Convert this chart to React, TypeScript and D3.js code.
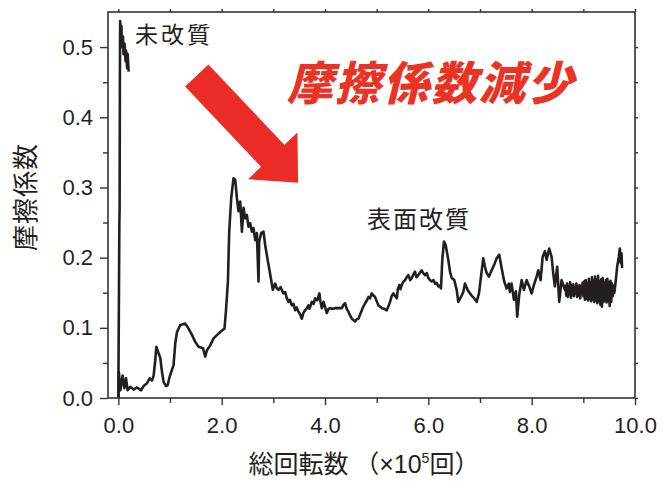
import { useEffect, useRef } from "react";
import * as d3 from "d3";

// 未改質 (untreated): very short run, x in 10^5 revolutions
const untreated: [number, number][] = [
  [0.0, 0.0], [0.02, 0.25], [0.025, 0.27], [0.03, 0.45], [0.035, 0.537], [0.05, 0.52], [0.06, 0.53],
  [0.07, 0.50], [0.09, 0.515], [0.10, 0.49], [0.12, 0.505], [0.14, 0.48], [0.15, 0.495],
  [0.17, 0.47], [0.18, 0.49], [0.20, 0.465],
];

// 表面改質 (surface treated)
const treated: [number, number][] = [
  [0.006, 0.0], [0.01, 0.037], [0.039, 0.011], [0.083, 0.032], [0.116, 0.014], [0.149, 0.028],
  [0.18, 0.011], [0.232, 0.016], [0.296, 0.012], [0.362, 0.015], [0.439, 0.011], [0.489, 0.017],
  [0.555, 0.021], [0.605, 0.028], [0.652, 0.025], [0.683, 0.032], [0.715, 0.054], [0.735, 0.073],
  [0.768, 0.066], [0.812, 0.057], [0.845, 0.037], [0.876, 0.023], [0.922, 0.017], [0.953, 0.018],
  [0.992, 0.03], [1.038, 0.04], [1.069, 0.047], [1.102, 0.078], [1.135, 0.094], [1.199, 0.104],
  [1.295, 0.106], [1.359, 0.099], [1.425, 0.09], [1.489, 0.08], [1.553, 0.073], [1.638, 0.071],
  [1.682, 0.059], [1.715, 0.068], [1.779, 0.075], [1.843, 0.085], [1.914, 0.09], [1.972, 0.094],
  [2.055, 0.099], [2.082, 0.123], [2.121, 0.166], [2.146, 0.237], [2.185, 0.285], [2.229, 0.313],
  [2.262, 0.311], [2.295, 0.285], [2.326, 0.266], [2.359, 0.28], [2.392, 0.237], [2.423, 0.271],
  [2.456, 0.256], [2.488, 0.261], [2.519, 0.244], [2.552, 0.249], [2.585, 0.237], [2.616, 0.242],
  [2.649, 0.225], [2.681, 0.235], [2.713, 0.166], [2.726, 0.223], [2.765, 0.235], [2.809, 0.237],
  [2.842, 0.218], [2.906, 0.19], [2.952, 0.171], [2.991, 0.154], [3.036, 0.163], [3.07, 0.156],
  [3.099, 0.154], [3.14, 0.158], [3.196, 0.149], [3.23, 0.151], [3.262, 0.142], [3.293, 0.137],
  [3.32, 0.14], [3.358, 0.132], [3.39, 0.134], [3.422, 0.125], [3.45, 0.129], [3.486, 0.123],
  [3.52, 0.119], [3.552, 0.113], [3.58, 0.121], [3.616, 0.125], [3.65, 0.128], [3.679, 0.132],
  [3.7, 0.127], [3.745, 0.137], [3.78, 0.134], [3.809, 0.142], [3.85, 0.139], [3.892, 0.149],
  [3.91, 0.138], [3.939, 0.128], [3.97, 0.137], [4.0, 0.13], [4.035, 0.121], [4.07, 0.127],
  [4.099, 0.128], [4.15, 0.127], [4.196, 0.128], [4.26, 0.128], [4.325, 0.128], [4.36, 0.133],
  [4.389, 0.135], [4.42, 0.127], [4.453, 0.123], [4.49, 0.117], [4.519, 0.113], [4.55, 0.111],
  [4.582, 0.109], [4.61, 0.112], [4.646, 0.113], [4.68, 0.119], [4.712, 0.125], [4.74, 0.13],
  [4.776, 0.135], [4.81, 0.139], [4.84, 0.144], [4.87, 0.142], [4.905, 0.149], [4.94, 0.146],
  [4.969, 0.144], [5.0, 0.138], [5.033, 0.132], [5.07, 0.13], [5.099, 0.128], [5.15, 0.127],
  [5.195, 0.125], [5.23, 0.131], [5.259, 0.137], [5.29, 0.145], [5.323, 0.149], [5.36, 0.145],
  [5.389, 0.142], [5.41, 0.155], [5.439, 0.161], [5.46, 0.155], [5.485, 0.161], [5.52, 0.166],
  [5.549, 0.168], [5.58, 0.172], [5.613, 0.175], [5.65, 0.168], [5.679, 0.171], [5.71, 0.176],
  [5.742, 0.18], [5.77, 0.172], [5.806, 0.175], [5.84, 0.179], [5.872, 0.182], [5.9, 0.178],
  [5.936, 0.175], [5.97, 0.178], [6.0, 0.171], [6.03, 0.168], [6.065, 0.166], [6.1, 0.168],
  [6.129, 0.163], [6.16, 0.164], [6.193, 0.159], [6.22, 0.16], [6.245, 0.156],
  [6.27, 0.197], [6.303, 0.223], [6.336, 0.218], [6.386, 0.197], [6.419, 0.18], [6.452, 0.171],
  [6.502, 0.168], [6.549, 0.154], [6.58, 0.137], [6.632, 0.144], [6.676, 0.151], [6.709, 0.163],
  [6.761, 0.154], [6.825, 0.147], [6.889, 0.142], [6.935, 0.137], [6.98, 0.149], [7.019, 0.173],
  [7.063, 0.199], [7.096, 0.187], [7.129, 0.178], [7.173, 0.173], [7.225, 0.182], [7.276, 0.19],
  [7.322, 0.199], [7.372, 0.204], [7.419, 0.185], [7.469, 0.166], [7.516, 0.156], [7.56, 0.163],
  [7.579, 0.151], [7.612, 0.163], [7.657, 0.14], [7.695, 0.152], [7.72, 0.116], [7.759, 0.147],
  [7.806, 0.168], [7.85, 0.154], [7.902, 0.168], [7.953, 0.159], [7.999, 0.149], [8.043, 0.161],
  [8.096, 0.173], [8.127, 0.182], [8.173, 0.168], [8.212, 0.201], [8.256, 0.209], [8.289, 0.197],
  [8.339, 0.213], [8.386, 0.201], [8.417, 0.178], [8.449, 0.159], [8.494, 0.187], [8.533, 0.137],
  [8.579, 0.168], [8.643, 0.154], [8.655, 0.16], [8.67, 0.146], [8.685, 0.163], [8.7, 0.144],
  [8.715, 0.158], [8.73, 0.148], [8.745, 0.165], [8.76, 0.143], [8.775, 0.16], [8.79, 0.147],
  [8.805, 0.162], [8.82, 0.145], [8.835, 0.157], [8.85, 0.149], [8.865, 0.163], [8.88, 0.144],
  [8.895, 0.159], [8.91, 0.146], [8.925, 0.161], [8.94, 0.142], [8.955, 0.158], [8.97, 0.148],
  [8.985, 0.164], [9.0, 0.145], [9.015, 0.166], [9.03, 0.14], [9.045, 0.168], [9.06, 0.142],
  [9.075, 0.163], [9.09, 0.139], [9.105, 0.17], [9.12, 0.141], [9.135, 0.165], [9.15, 0.138],
  [9.165, 0.172], [9.18, 0.14], [9.195, 0.167], [9.21, 0.137], [9.225, 0.173], [9.24, 0.139],
  [9.255, 0.168], [9.27, 0.135], [9.285, 0.174], [9.3, 0.138], [9.315, 0.166], [9.33, 0.133],
  [9.345, 0.169], [9.36, 0.13], [9.375, 0.171], [9.39, 0.137], [9.405, 0.164], [9.42, 0.139],
  [9.435, 0.168], [9.45, 0.136], [9.465, 0.17], [9.48, 0.138], [9.495, 0.165], [9.51, 0.131],
  [9.525, 0.167], [9.54, 0.137], [9.555, 0.163], [9.57, 0.145], [9.585, 0.16], [9.6, 0.15],
  [9.629, 0.168], [9.654, 0.187], [9.687, 0.201], [9.706, 0.213],
  [9.725, 0.192], [9.739, 0.206], [9.75, 0.185],
];

const xMajor = [0, 2, 4, 6, 8, 10];
const xMinor = [1, 3, 5, 7, 9];
const yMajor = [0, 0.1, 0.2, 0.3, 0.4, 0.5];
const yMinor = [0.05, 0.15, 0.25, 0.35, 0.45];

// arrow: tail centre and tip, in data units
const arrowTail: [number, number] = [1.518, 0.4596];
const arrowTip: [number, number] = [3.48, 0.3067];

const width = 663, height = 481;
const plot = { left: 108, right: 635, top: 12, bottom: 398 };
const ink = "#231f20";
const latin = "'Liberation Sans', Arial, 'Noto Sans CJK JP', sans-serif";
const cjk = "'Noto Sans CJK JP', sans-serif";

const App = () => {
  const ref = useRef<HTMLDivElement>(null);

  useEffect(() => {
    const svg = d3
      .select(ref.current)
      .append("svg")
      .attr("width", width)
      .attr("height", height)
      .style("position", "absolute")
      .style("left", "0px")
      .style("top", "0px")
      .style("background", "#fff");

    const x = d3.scaleLinear().domain([-0.2, 10]).range([plot.left, plot.right]);
    const y = d3.scaleLinear().domain([0, 0.55]).range([plot.bottom, plot.top]);
    const fmt = d3.format(".1f");

    // arrow (drawn under the curve)
    const [tx, ty] = [x(arrowTail[0]), y(arrowTail[1])];
    const [px, py] = [x(arrowTip[0]), y(arrowTip[1])];
    const len = Math.hypot(px - tx, py - ty);
    const ux = (px - tx) / len, uy = (py - ty) / len;
    const nx = -uy, ny = ux;
    const shaftW = 16, headW = 34, headL = 37;
    const bx = px - ux * headL, by = py - uy * headL;
    const pts: [number, number][] = [
      [tx + nx * shaftW, ty + ny * shaftW],
      [bx + nx * shaftW, by + ny * shaftW],
      [bx + nx * headW, by + ny * headW],
      [px, py],
      [bx - nx * headW, by - ny * headW],
      [bx - nx * shaftW, by - ny * shaftW],
      [tx - nx * shaftW, ty - ny * shaftW],
    ];
    svg.append("polygon").attr("points", pts.map(p => p.join(",")).join(" ")).attr("fill", "#ec2d27");

    const line = d3.line<[number, number]>().x(d => x(d[0])).y(d => y(d[1]));
    [untreated, treated].forEach(s =>
      svg.append("path").attr("d", line(s)).attr("fill", "none")
        .attr("stroke", ink).attr("stroke-width", 2.6).attr("stroke-linejoin", "round")
    );

    // frame
    svg.append("rect")
      .attr("x", plot.left).attr("y", plot.top)
      .attr("width", plot.right - plot.left).attr("height", plot.bottom - plot.top)
      .attr("fill", "none").attr("stroke", "#333").attr("stroke-width", 1.6);

    const style = (g: d3.Selection<SVGGElement, unknown, null, undefined>) => {
      g.select(".domain").remove();
      g.selectAll("line").attr("stroke", "#333").attr("stroke-width", 1.4);
      g.selectAll("text").attr("fill", ink).style("font-family", latin).style("font-size", "22px");
    };

    svg.append("g").attr("transform", `translate(0,${plot.bottom})`)
      .call(d3.axisBottom(x).tickValues(xMajor).tickSize(7).tickPadding(12).tickFormat(d => fmt(+d)))
      .call(style);
    svg.append("g").attr("transform", `translate(0,${plot.bottom})`)
      .call(d3.axisBottom(x).tickValues(xMinor).tickSize(5).tickFormat(() => ""))
      .call(style);
    svg.append("g").attr("transform", `translate(0,${plot.top})`)
      .call(d3.axisTop(x).tickValues([...xMajor, ...xMinor]).tickSize(3).tickFormat(() => ""))
      .call(style);

    svg.append("g").attr("transform", `translate(${plot.left},0)`)
      .call(d3.axisLeft(y).tickValues(yMajor).tickSize(8).tickPadding(7).tickFormat(d => fmt(+d)))
      .call(style);
    svg.append("g").attr("transform", `translate(${plot.left},0)`)
      .call(d3.axisLeft(y).tickValues(yMinor).tickSize(5).tickFormat(() => ""))
      .call(style);
    svg.append("g").attr("transform", `translate(${plot.right},0)`)
      .call(d3.axisRight(y).tickValues([...yMajor, ...yMinor]).tickSize(3).tickFormat(() => ""))
      .call(style);

    // axis titles
    const xt = svg.append("text")
      .attr("x", 364).attr("y", 473).attr("text-anchor", "middle")
      .attr("fill", ink).style("font-family", latin).style("font-size", "25px");
    xt.append("tspan").style("font-family", cjk).text("総回転数 （");
    xt.append("tspan").text("×10");
    xt.append("tspan").attr("dy", -10).style("font-size", "14px").text("5");
    xt.append("tspan").attr("dy", 10).style("font-family", cjk).text("回）");

    svg.append("text")
      .attr("transform", "translate(35,197) rotate(-90)")
      .attr("text-anchor", "middle").attr("fill", ink)
      .style("font-family", cjk).style("font-size", "26px").style("letter-spacing", "1px").text("摩擦係数");

    svg.append("text").attr("x", 135).attr("y", 43).attr("fill", ink)
      .style("font-family", cjk).style("font-size", "23px").style("letter-spacing", "3px").text("未改質");

    svg.append("text").attr("x", 367).attr("y", 228).attr("fill", ink)
      .style("font-family", cjk).style("font-size", "24px").style("letter-spacing", "2px").text("表面改質");

    svg.append("text").attr("x", 287).attr("y", 100).attr("fill", "#ea3324")
      .style("font-family", cjk).style("font-size", "46px").style("font-weight", 900)
      .style("font-style", "italic").style("letter-spacing", "2px").text("摩擦係数減少");

    return () => {
      d3.select(ref.current).select("svg").remove();
    };
  }, []);

  return <div ref={ref}></div>;
};

export default App;
